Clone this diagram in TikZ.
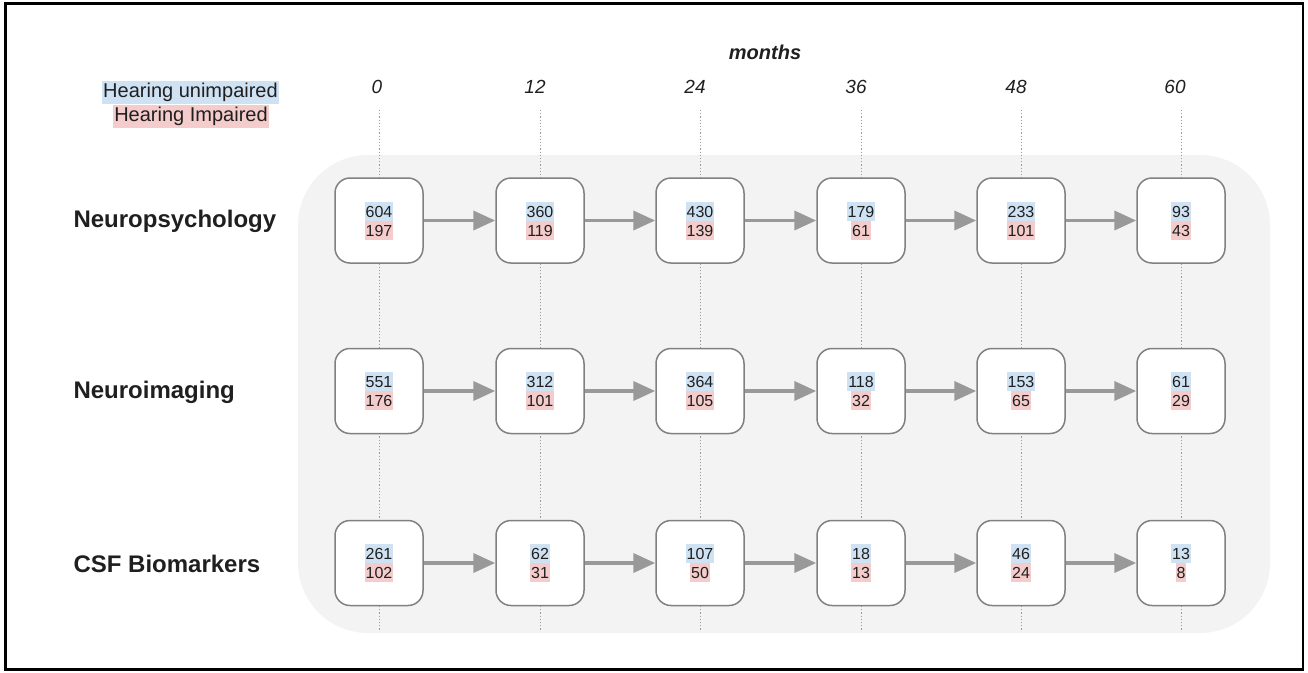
\documentclass[tikz,border=0pt]{standalone}
\usepackage{fontspec}
\setmainfont{Liberation Sans}
\usetikzlibrary{arrows.meta}
\definecolor{hlblue}{HTML}{CFE2F3}
\definecolor{hlpink}{HTML}{F4CCCC}
\definecolor{panel}{HTML}{F3F3F3}
\definecolor{boxedge}{HTML}{808080}
\definecolor{arr}{HTML}{999999}
\definecolor{ink}{HTML}{1F1F1F}
\tikzset{
  cellbox/.style={draw=boxedge, line width=1.5pt, fill=white, rounded corners=15pt,
    minimum width=88pt, minimum height=85pt, inner sep=0pt},
  hl/.style={inner xsep=1pt, inner ysep=0pt, text height=15.5pt, text depth=3.5pt,
    font=\fontsize{16}{18}\selectfont, text=ink},
  hltop/.style={hl, fill=hlblue},
  hlbot/.style={hl, fill=hlpink},
  flow/.style={draw=arr, line width=3.8pt, -{Triangle[length=22pt,width=19pt]}},
  guide/.style={draw=arr, line width=0.9pt, dash pattern=on 1.2pt off 2pt},
  month/.style={font=\fontsize{19}{22}\selectfont\itshape, text=ink},
  rowlab/.style={font=\fontsize{24}{28}\selectfont\bfseries, anchor=west, text=ink},
  legend/.style={font=\fontsize{20}{24}\selectfont, inner xsep=1pt, inner ysep=0pt,
    text height=17pt, text depth=6pt, text=ink}
}
\newcommand\mycell[5]{%
  \node[cellbox] (#1) at (#2,#3) {};
  \node[hltop] (#1t) at (#2,#3-9.5) {#4};
  \node[hlbot] (#1b) at (#2,#3+9.5) {#5};
}
\begin{document}
\begin{tikzpicture}[x=1pt,y=-1pt]
\useasboundingbox (0,0) rectangle (1308,672);
\draw[line width=2.5pt] (5.5,3.5) rectangle (1303,669.5);
\fill[panel, rounded corners=70pt] (298,155) rectangle (1270,633);
% guides
\foreach \i/\x in {1/379,2/540,3/700,4/861,5/1021,6/1181}{
  \coordinate (gt\i) at (\x,110);
  \coordinate (gb\i) at (\x,630);
  \draw[guide] (gt\i) -- (gb\i);
}
% header
\node[font=\fontsize{20}{24}\selectfont\bfseries\itshape, text=ink] (months) at (765,52) {months};
\node[month] (m0) at (377,87) {0};
\node[month] (m12) at (535,87) {12};
\node[month] (m24) at (695,87) {24};
\node[month] (m36) at (856,87) {36};
\node[month] (m48) at (1016,87) {48};
\node[month] (m60) at (1175,87) {60};
\node[legend, fill=hlblue] (lu) at (190.5,92) {Hearing unimpaired};
\node[legend, fill=hlpink] (li) at (191,116) {Hearing Impaired};
% row labels
\node[rowlab] (r1) at (70,221) {Neuropsychology};
\node[rowlab] (r2) at (70,392) {Neuroimaging};
\node[rowlab] (r3) at (70,564) {CSF Biomarkers};
% row 1
\mycell{a1}{379}{220.5}{604}{197}
\mycell{a2}{540}{220.5}{360}{119}
\mycell{a3}{700}{220.5}{430}{139}
\mycell{a4}{861}{220.5}{179}{61}
\mycell{a5}{1021}{220.5}{233}{101}
\mycell{a6}{1181}{220.5}{93}{43}
% row 2
\mycell{b1}{379}{391}{551}{176}
\mycell{b2}{540}{391}{312}{101}
\mycell{b3}{700}{391}{364}{105}
\mycell{b4}{861}{391}{118}{32}
\mycell{b5}{1021}{391}{153}{65}
\mycell{b6}{1181}{391}{61}{29}
% row 3
\mycell{c1}{379}{563}{261}{102}
\mycell{c2}{540}{563}{62}{31}
\mycell{c3}{700}{563}{107}{50}
\mycell{c4}{861}{563}{18}{13}
\mycell{c5}{1021}{563}{46}{24}
\mycell{c6}{1181}{563}{13}{8}
% arrows
\foreach \r in {a,b,c}{
  \foreach \i/\j in {1/2,2/3,3/4,4/5,5/6}{
    \draw[flow] (\r\i) -- (\r\j);
  }
}
\end{tikzpicture}
\end{document}
